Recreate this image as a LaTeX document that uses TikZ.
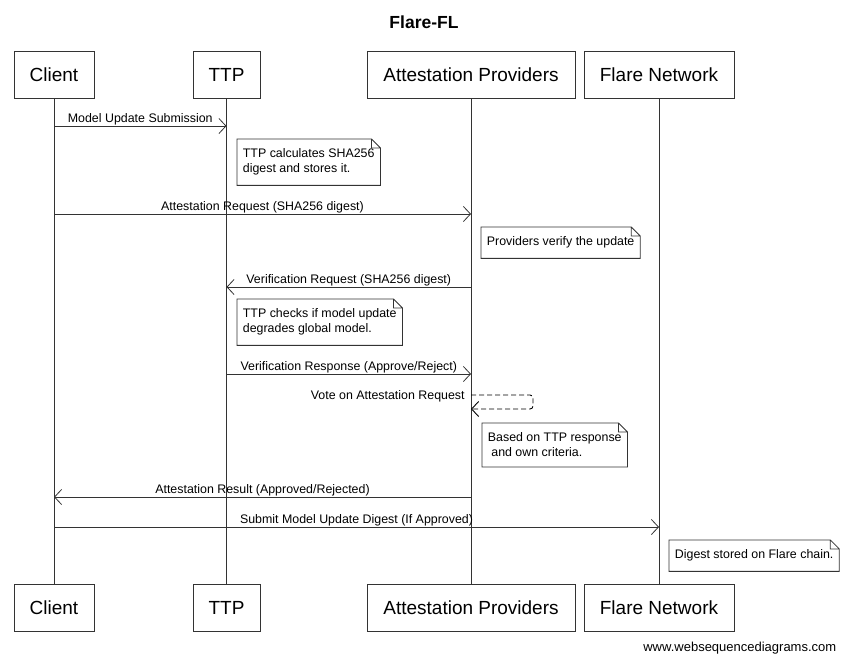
\documentclass[tikz,border=0pt]{standalone}
\usepackage{fontspec}
\setmainfont{Liberation Sans}
\usetikzlibrary{arrows.meta}

\begin{document}
\begin{tikzpicture}[x=1pt,y=-1pt,line width=0.8pt,
    msg/.style={draw=black!80,-{Straight Barb[length=7pt,width=15pt]}},
    small/.style={font=\fontsize{12.4}{15}\selectfont}]

      \useasboundingbox (0,0) rectangle (848,662);

      \node[font=\bfseries\fontsize{17.5}{21}\selectfont] (title) at (424,22) {Flare-FL};

      % participants, top and bottom
      \begin{scope}[every node/.style={draw=black!80,minimum height=47pt,inner sep=0pt,
          font=\fontsize{19}{23}\selectfont}]
        \node[minimum width=80pt]  (client)  at (54,74.5)    {Client};
        \node[minimum width=67pt]  (ttp)     at (226.5,74.5) {TTP};
        \node[minimum width=208pt] (prov)    at (471,74.5)   {Attestation Providers};
        \node[minimum width=150pt] (flare)   at (659,74.5)   {Flare Network};
        \node[minimum width=80pt]  (clientB) at (54,607.5)   {Client};
        \node[minimum width=67pt]  (ttpB)    at (226.5,607.5) {TTP};
        \node[minimum width=208pt] (provB)   at (471,607.5)  {Attestation Providers};
        \node[minimum width=150pt] (flareB)  at (659,607.5)  {Flare Network};
      \end{scope}

      \draw[black!80] (client) -- (clientB);
      \draw[black!80] (ttp) -- (ttpB);
      \draw[black!80] (prov) -- (provB);
      \draw[black!80] (flare) -- (flareB);

      % message ends
      \coordinate (c1) at (54,126);    \coordinate (t1) at (226.5,126);
      \coordinate (c2) at (54,214);    \coordinate (p2) at (471,214);
      \coordinate (p3) at (471,287);   \coordinate (t3) at (226.5,287);
      \coordinate (t4) at (226.5,374); \coordinate (p4) at (471,374);
      \coordinate (p5) at (471,395);   \coordinate (p5b) at (471,409);
      \coordinate (p6) at (471,497);   \coordinate (c6) at (54,497);
      \coordinate (c7) at (54,527);    \coordinate (f7) at (659,527);

      \begin{scope}[every node/.style={small,above,inner sep=0.5pt}]
        \begin{scope}[every edge/.style={msg}]
          \path (c1) edge node {Model Update Submission} (t1);
          \path (c2) edge node {Attestation Request (SHA256 digest)} (p2);
          \path (p3) edge node {Verification Request (SHA256 digest)} (t3);
          \path (t4) edge node {Verification Response (Approve/Reject)} (p4);
          \path (p6) edge node {Attestation Result (Approved/Rejected)} (c6);
          \path (c7) edge node {Submit Model Update Digest (If Approved)} (f7);
        \end{scope}
      \end{scope}

      \draw[msg,draw=black,line width=0.9pt,dash pattern=on 5pt off 3pt,rounded corners=3pt]
        (p5) -- ++(62,0) -- ++(0,14) -- (p5b);
      \node[small,anchor=east,inner sep=0pt] (vote) at (465,396) {Vote on Attestation Request};

      % notes
      \begin{scope}[every node/.style={small,anchor=north west,align=left,
          inner xsep=5.5pt,inner ysep=9.5pt}]
        \node (n1) at (237,139) {TTP calculates SHA256\\digest and stores it.};
        \node (n2) at (481,227) {Providers verify the update};
        \node (n3) at (237,299) {TTP checks if model update\\degrades global model.};
        \node (n4) at (482,423) {Based on TTP response\\\hspace*{.28em}and own criteria.};
        \node (n5) at (669,540) {Digest stored on Flare chain.};
      \end{scope}

      \foreach \n in {n1,n2,n3,n4,n5}
        \draw[black!80] (\n.south west) -- (\n.north west) -- ([xshift=-9pt]\n.north east)
          -- ([yshift=-9pt]\n.north east) -- (\n.south east) -- cycle
          ([xshift=-9pt]\n.north east) |- ([yshift=-9pt]\n.north east);

      \node[font=\fontsize{13}{15}\selectfont,anchor=east] (site) at (840,648) {www.websequencediagrams.com};

    \end{tikzpicture}
\end{document}
